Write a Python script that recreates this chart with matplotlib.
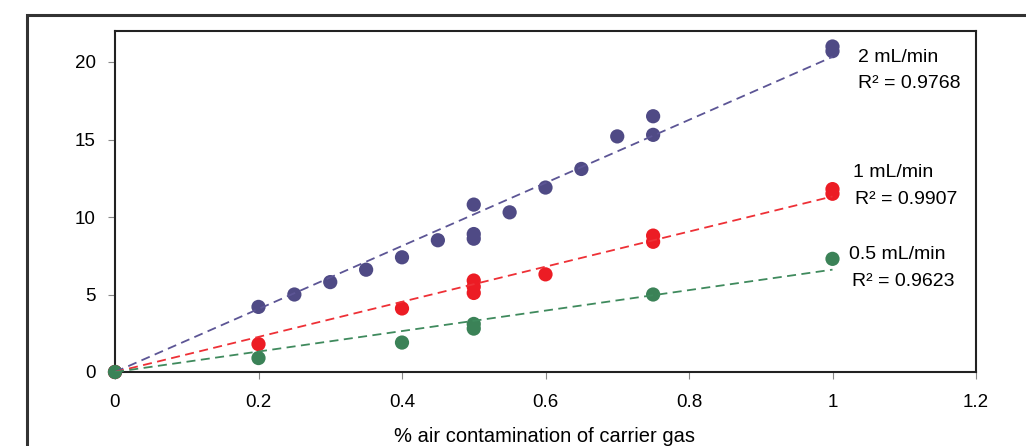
import numpy as np
import matplotlib.pyplot as plt
from matplotlib.patches import Rectangle

plt.rcParams['font.family'] = ['Liberation Sans', 'DejaVu Sans']

# data
x_2 = [0, 0.2, 0.25, 0.3, 0.35, 0.4, 0.45, 0.5, 0.5, 0.5, 0.55, 0.6, 0.65, 0.7, 0.75, 0.75, 1.0, 1.0]
y_2 = [0, 4.2, 5.0, 5.8, 6.6, 7.4, 8.5, 10.8, 8.9, 8.6, 10.3, 11.9, 13.1, 15.2, 16.5, 15.3, 21.0, 20.7]

x_1 = [0, 0.2, 0.4, 0.5, 0.5, 0.5, 0.6, 0.75, 0.75, 1.0, 1.0]
y_1 = [0, 1.8, 4.1, 5.9, 5.5, 5.1, 6.3, 8.8, 8.4, 11.8, 11.5]

x_05 = [0, 0.2, 0.4, 0.5, 0.5, 0.75, 1.0]
y_05 = [0, 0.9, 1.9, 3.1, 2.8, 5.0, 7.3]

labels = ['2 mL/min', '1 mL/min', '0.5 mL/min']
r2 = ['0.9768', '0.9907', '0.9623']

fig = plt.figure(figsize=(10.26, 4.46), dpi=100)
ax = fig.add_axes([115/1026, 1 - 372/446, (976-115)/1026, (372-31)/446])

series = [(x_2, y_2, '#4f4a85', '#5c5595'),
          (x_1, y_1, '#ec1c24', '#ee3036'),
          (x_05, y_05, '#3b8257', '#3f8a5d')]

for xs, ys, mc, lc in series:
    xs = np.array(xs)
    ys = np.array(ys)
    # linear trendline forced through the origin
    slope = np.sum(xs * ys) / np.sum(xs * xs)
    xl = np.array([0, 1.0])
    ax.plot(xl, slope * xl, linestyle=(0, (5, 3)), color=lc, linewidth=1.3, zorder=4)
    ax.scatter(xs, ys, s=105, color=mc, edgecolors='none', zorder=3, clip_on=False)

# text labels next to the line ends
ax.text(1.036, 20.3, labels[0], fontsize=14, va='center')
ax.text(1.036, 18.6, 'R² = ' + r2[0], fontsize=14, va='center')
ax.text(1.029, 12.9, labels[1], fontsize=14, va='center')
ax.text(1.032, 11.1, 'R² = ' + r2[1], fontsize=14, va='center')
ax.text(1.023, 7.6, labels[2], fontsize=14, va='center')
ax.text(1.027, 5.85, 'R² = ' + r2[2], fontsize=14, va='center')

ax.set_xlim(0, 1.2)
ax.set_ylim(0, 22)
ax.set_xticks([0, 0.2, 0.4, 0.6, 0.8, 1.0, 1.2])
ax.set_xticklabels(['0', '0.2', '0.4', '0.6', '0.8', '1', '1.2'])
ax.set_yticks([0, 5, 10, 15, 20])
ax.tick_params(axis='both', labelsize=13.5, length=5, color='#888888', direction='out')
ax.tick_params(axis='x', pad=11)
ax.tick_params(axis='y', pad=9)
for s in ax.spines.values():
    s.set_linewidth(1.5)
    s.set_color('#222222')

fig.text(545/1026, 1 - 437/446, '% air contamination of carrier gas', fontsize=14.5,
         ha='center', va='center')

# outer frame, running off the right and bottom edges
fig.patches.append(Rectangle((27/1026, -0.1), 1.2, 1 - 15/446 + 0.1, transform=fig.transFigure,
                             fill=False, edgecolor='#333333', linewidth=2.2))

fig.savefig('out.png', dpi=100)
